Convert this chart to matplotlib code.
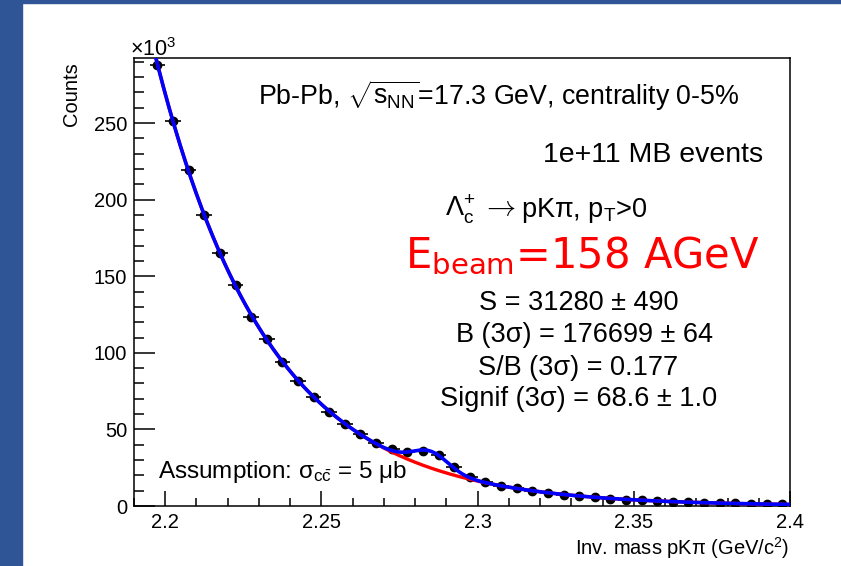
import numpy as np
import matplotlib
matplotlib.use("Agg")
import matplotlib.pyplot as plt
from matplotlib.patches import Rectangle
from matplotlib.ticker import FixedLocator, MultipleLocator

# ---------------- data (counts in units of 10^3 per 5 MeV bin) ----------------
bin_centers = [2.1975, 2.2025, 2.2075, 2.2125, 2.2175, 2.2225, 2.2275, 2.2325,
               2.2375, 2.2425, 2.2475, 2.2525, 2.2575, 2.2625, 2.2675, 2.2725,
               2.2775, 2.2825, 2.2875, 2.2925, 2.2975, 2.3025, 2.3075, 2.3125,
               2.3175, 2.3225, 2.3275, 2.3325, 2.3375, 2.3425, 2.3475, 2.3525,
               2.3575, 2.3625, 2.3675, 2.3725, 2.3775, 2.3825, 2.3875, 2.3925,
               2.3975]
counts_k = [288.0, 251.3, 219.3, 190.0, 165.0, 144.3, 123.6, 108.8,
            93.8, 81.8, 71.3, 61.6, 53.5, 46.8, 40.9, 37.0,
            35.1, 36.1, 33.3, 25.3, 18.7, 15.8, 13.1, 11.5,
            9.8, 8.3, 7.4, 6.5, 5.7, 4.8, 4.1, 3.7,
            3.3, 2.8, 2.4, 2.2, 2.0, 1.7, 1.5, 1.3,
            1.1]
bin_width = 0.005
signal_yield = 31280      # S from the chart
peak_mean = 2.285         # Lambda_c peak position (GeV/c^2)
peak_sigma = 0.0057       # peak width (GeV/c^2)

x_ticks = [2.2, 2.25, 2.3, 2.35, 2.4]
x_tick_labels = ["2.2", "2.25", "2.3", "2.35", "2.4"]
y_ticks = [0, 50, 100, 150, 200, 250]
y_tick_labels = ["0", "50", "100", "150", "200", "250"]

# ---------------- styling ----------------
plt.rcParams['font.family'] = ['Liberation Sans', 'DejaVu Sans']
plt.rcParams['mathtext.fontset'] = 'custom'
plt.rcParams['mathtext.rm'] = 'Liberation Sans'
plt.rcParams['mathtext.it'] = 'Liberation Sans:italic'
plt.rcParams['mathtext.bf'] = 'Liberation Sans:bold'
plt.rcParams['mathtext.sf'] = 'Liberation Sans'

W, H = 841, 566
fig = plt.figure(figsize=(W / 100, H / 100), dpi=100)
fig.patch.set_facecolor('white')

def fx(px):
    return px / W

def fy(py):
    return 1 - py / H

# slide frame strips
frame_col = '#2F5597'
fig.patches.append(Rectangle((0, 0), fx(22), 1, transform=fig.transFigure,
                             color=frame_col, zorder=0))
fig.patches.append(Rectangle((0, fy(3)), 1, 1 - fy(3), transform=fig.transFigure,
                             color=frame_col, zorder=0))

ax = fig.add_axes([fx(134), fy(506), fx(790) - fx(134), fy(58) - fy(506)])

xc = np.array(bin_centers)
yk = np.array(counts_k)

# ---------------- fit: gaussian signal + exp(poly) background ----------------
def gauss_k(x):
    amp = signal_yield * bin_width / (np.sqrt(2 * np.pi) * peak_sigma) / 1000.0
    return amp * np.exp(-0.5 * ((x - peak_mean) / peak_sigma) ** 2)

bg_pts = yk - gauss_k(xc)
coef = np.polyfit(xc - 2.3, np.log(bg_pts), 3, w=np.sqrt(bg_pts))
xf = np.linspace(2.19, 2.40, 600)
bg_curve = np.exp(np.polyval(coef, xf - 2.3))
tot_curve = bg_curve + gauss_k(xf)

ax.errorbar(xc, yk, xerr=bin_width / 2, yerr=np.sqrt(yk * 1000) / 1000,
            fmt='o', color='black', ms=6, elinewidth=1.2, capsize=0, zorder=2)
ax.plot(xf, bg_curve, color='#FF0000', lw=2.4, zorder=3)
ax.plot(xf, tot_curve, color='#0000FF', lw=2.6, zorder=4)

ax.set_xlim(2.19, 2.40)
ax.set_ylim(0, 292.5)

ax.xaxis.set_major_locator(FixedLocator(x_ticks))
ax.set_xticklabels(x_tick_labels)
ax.xaxis.set_minor_locator(MultipleLocator(0.01))
ax.yaxis.set_major_locator(FixedLocator(y_ticks))
ax.set_yticklabels(y_tick_labels)
ax.yaxis.set_minor_locator(MultipleLocator(10))

ax.tick_params(axis='both', which='both', direction='in', top=False, right=False,
               colors='black', width=1.1, labelsize=14.5)
ax.tick_params(axis='y', which='major', length=15, pad=5)
ax.tick_params(axis='y', which='minor', length=7.5)
ax.tick_params(axis='x', which='major', length=11, pad=5)
ax.tick_params(axis='x', which='minor', length=5.5)
for s in ax.spines.values():
    s.set_linewidth(1.1)
    s.set_color('black')

# ---------------- texts ----------------
fs = 19.5
fig.text(fx(258), fy(105), r"Pb-Pb, $\sqrt{\mathrm{s}_{\mathrm{NN}}}$=17.3 GeV, centrality 0-5%",
         fontsize=19.3, ha='left', va='baseline')
fig.text(fx(763), fy(161.5), "1e+11 MB events", fontsize=20.5, ha='right', va='baseline')
fig.text(fx(445), fy(216.5), r"Λ$_{\mathrm{c}}^{+}$", fontsize=fs, ha='left', va='baseline')
fig.text(fx(481), fy(215), r"$\rightarrow$", fontsize=21, ha='left', va='baseline',
         math_fontfamily='cm')
fig.text(fx(521), fy(216.5), r"pKπ, p$_{\mathrm{T}}$>0", fontsize=fs, ha='left', va='baseline')
fig.text(fx(405), fy(268), r"E$_{\mathrm{beam}}$=158 AGeV", fontsize=30, color='#FF0000',
         ha='left', va='baseline', family='DejaVu Sans', math_fontfamily='dejavusans')
fig.text(fx(579), fy(310.5), "S = 31280 ± 490", fontsize=fs, ha='center', va='baseline')
fig.text(fx(584), fy(341.5), "B (3σ) = 176699 ± 64", fontsize=fs, ha='center', va='baseline')
fig.text(fx(578.5), fy(375), "S/B (3σ) = 0.177", fontsize=fs, ha='center', va='baseline')
fig.text(fx(579), fy(406.5), "Signif (3σ) = 68.6 ± 1.0", fontsize=fs, ha='center', va='baseline')
fig.text(fx(158), fy(478), r"Assumption: σ$_{\mathrm{c}\bar{\mathrm{c}}}$ = 5 μb",
         fontsize=17.5, ha='left', va='baseline')

fig.text(fx(789), fy(555), r"Inv. mass pKπ (GeV/c$^{2}$)", fontsize=14.5,
         ha='right', va='baseline')
fig.text(fx(72), fy(62), "Counts", fontsize=14.5, rotation=90, ha='center', va='top')
fig.text(fx(130), fy(56), r"×10$^{3}$", fontsize=15.5, ha='left', va='baseline')

fig.savefig("out.png", dpi=100)
